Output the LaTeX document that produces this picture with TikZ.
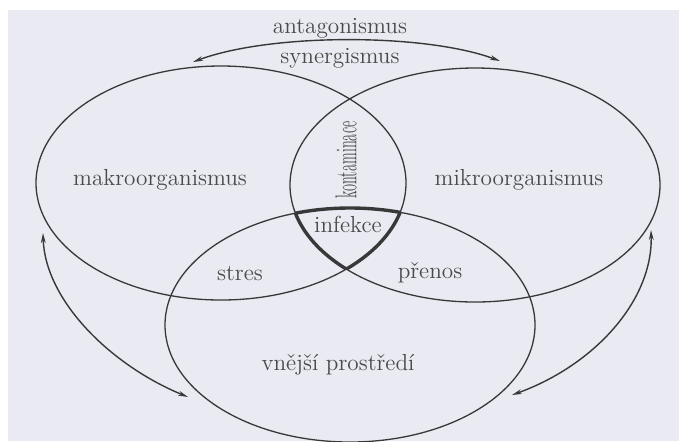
\documentclass[tikz,border=0pt]{standalone}
\usepackage{graphicx}
\usetikzlibrary{arrows.meta}
\definecolor{papir}{HTML}{E9EAF2}
\definecolor{cara}{HTML}{383838}
\definecolor{pismo}{HTML}{4A4A4A}

\begin{document}
\begin{tikzpicture}[x=0.5pt,y=-0.5pt,
    popis/.style={text=pismo,font=\fontsize{11.6}{13}\selectfont,inner sep=1pt},
    mnozina/.style={draw=cara,line width=0.65pt},
    vazba/.style={draw=cara,line width=0.7pt,
      {Stealth[length=5pt,width=2.4pt]}-{Stealth[length=5pt,width=2.4pt]}}]

    % Pozadi
    \useasboundingbox (0,0) rectangle (679,441);
    \fill[white] (0,0) rectangle (679,441);
    \fill[papir] (8,10) rectangle (679,441);

    % Stredy mnozin
    \coordinate (mL) at (221,183);
    \coordinate (mR) at (475,185);
    \coordinate (mB) at (350,325);

    % Mnoziny
    \foreach \m in {mL,mR,mB}
        \draw[mnozina] (\m) ellipse [x radius=92.5pt, y radius=58.5pt];

    % Infekce - prunik vsech tri
    \foreach \p/\q/\r in {mL/mR/mB, mL/mB/mR, mR/mB/mL}{
        \begin{scope}
            \clip (\p) ellipse [x radius=92.5pt, y radius=58.5pt];
            \clip (\q) ellipse [x radius=92.5pt, y radius=58.5pt];
            \draw[cara,line width=1.7pt] (\r) ellipse [x radius=92.5pt, y radius=58.5pt];
        \end{scope}
    }

    % Popisky
    \node[popis] (antag) at (340,28) {antagonismus};
    \node[popis] (synerg) at (340,58) {synergismus};
    \node[popis] (makro) at (160,180) {makroorganismus};
    \node[popis] (mikro) at (519,180) {mikroorganismus};
    \node[popis,rotate=90] (kontam) at (346,160) {\scalebox{0.62}[1.3]{kontaminace}};
    \node[popis] (infekce) at (348,224) {infekce};
    \node[popis] (stres) at (240,273) {stres};
    \node[popis] (prenos) at (430,273) {přenos};
    \node[popis] (prostredi) at (338,365) {vnější prostředí};

    % Vazby
    \coordinate (antL) at (193,62);
    \coordinate (antR) at (500,61);
    \draw[vazba] (antL) .. controls (270,33) and (425,33) .. (antR);
    \coordinate (makroTip) at (43,233);
    \coordinate (prostrL) at (188,397);
    \draw[vazba] (makroTip) .. controls (45,300) and (110,365) .. (prostrL);
    \coordinate (mikroTip) at (651,230);
    \coordinate (prostrR) at (512,395);
    \draw[vazba] (mikroTip) .. controls (653,300) and (595,365) .. (prostrR);
\end{tikzpicture}
\end{document}
